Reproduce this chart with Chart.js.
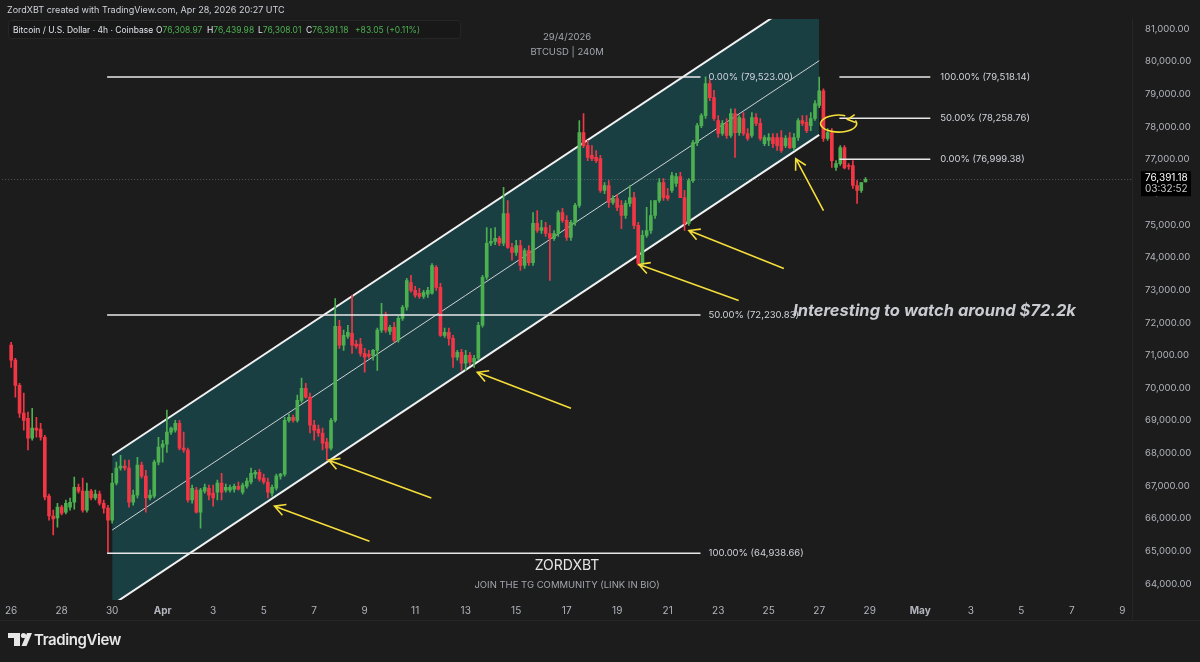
<!DOCTYPE html>
<html lang="en">
<head>
<meta charset="UTF-8">
<title>BTCUSD 240M</title>
<script src="https://cdn.jsdelivr.net/npm/chart.js"></script>
<style>
  body { margin: 0; padding: 0; background: #1c1c1c; }
  #wrap { width: 1200px; height: 662px; }
</style>
</head>
<body>
<div id="wrap"><canvas id="btcChart" width="1200" height="662"></canvas></div>
<script>
// BTCUSD 4h candles (Coinbase), first candle Mar 26 00:00 UTC, one every 4 hours
const opens = [
  71310,70850,70080,69230,69070,68460,68770,68740,68490,66690,66080,66020,
  66350,66200,66350,66500,66960,66840,66260,66840,66630,66750,66470,66320,
  65950,67090,67550,67610,67550,66500,66720,67640,67300,66630,66690,67730,
  68190,68280,68650,68710,68920,68160,68100,66570,66870,66200,66840,66930,
  66780,66810,67090,66870,66870,66900,66990,66810,66990,67120,67360,67420,
  67240,67120,66780,66930,67300,67360,69010,69100,69010,69620,69990,69720,
  68860,68740,68620,68340,68160,69010,71890,71310,71580,71670,71340,71340,
  71060,71030,71000,71150,71770,72220,71730,71860,71460,72130,72470,73230,
  72990,72900,72800,72870,72900,73690,73080,71610,71700,71520,70940,71090,
  70760,71000,70790,70910,71920,73390,74430,74490,74580,74430,75340,74300,
  74150,74360,73750,74210,73840,75040,74820,74910,74730,74580,74730,75370,
  75130,74610,75070,75590,77820,77420,77120,77060,77020,76050,76200,75680,
  75800,75590,75280,75650,75830,74980,73810,74670,74820,75280,75740,76290,
  75890,76050,76260,76470,75830,75040,76350,77510,78030,78340,79320,78890,
  78190,77790,78100,77730,78400,77820,78250,77790,77730,78280,78100,77480,
  77580,77670,77670,77670,77420,77670,77360,77670,78190,78130,78030,78250,
  78650,79100,77640,77820,76750,76870,77360,76810,76810,76200,76050,76308.97
];
const highs = [
  71400,70910,70140,69840,69260,69380,69100,68920,68550,66750,66260,66470,
  66410,66570,66630,67270,67060,67240,67090,66900,66870,66840,66570,66410,
  67390,67730,67940,67790,67790,66870,67880,67730,67480,66870,67790,68490,
  68400,69320,68800,69010,69010,68650,68160,67030,66960,66930,67060,67030,
  67030,67180,67390,67060,67030,67060,67120,67090,67240,67550,67480,67510,
  67360,67240,67030,67360,67390,69100,69200,69170,69780,70300,70140,69840,
  69010,68860,68770,68460,69070,72740,72070,71770,71920,72840,71460,71520,
  71210,71150,71180,71830,72590,72320,71920,72010,72190,72530,73360,73450,
  73110,73050,72990,73080,73810,73750,73200,71830,71830,71610,71150,71180,
  71150,71090,71000,72010,73450,74910,74880,74910,74640,76140,75740,74430,
  74520,74520,74270,74360,75370,75430,75130,75070,74980,74820,75430,75500,
  75280,75130,75650,78190,78400,77580,77420,77270,77120,76290,76350,75890,
  75920,75740,75740,76200,75990,75070,74820,75530,75740,75740,76410,76410,
  76110,76600,76570,76600,76050,76410,77580,78100,78400,79523.00,79440,79110,
  78340,78190,78250,78550,78550,78340,78430,77940,78430,78400,78250,77730,
  77790,77790,77790,77880,77730,77820,77790,78250,78340,78340,78430,78800,
  79518.14,79160,77940,77940,76960,77420,77420,76870,76960,76350,76290,76439.98
];
const lows = [
  70630,69720,69100,68710,68100,68400,68490,68400,66570,65950,65500,65740,
  66110,66140,66260,66290,66780,66200,66200,66570,66570,66410,66170,64938.66,
  65860,67030,67480,67480,66350,66410,66630,67240,66200,66570,66630,67640,
  67730,68030,68580,68650,68100,68030,66500,66470,66170,65710,66780,66570,
  66380,66570,66570,66810,66810,66810,66870,66750,66930,67060,67240,67150,
  67060,66630,66690,66870,67210,67300,68950,68950,68950,69560,69690,68620,
  68400,68520,68100,67790,68100,68950,71210,71150,71520,71060,71210,70970,
  70480,70910,70850,70540,71700,71700,71640,71400,71400,72070,72380,72930,
  72770,72740,72740,72770,72870,72990,71580,71550,71310,70630,70850,70540,
  70540,70690,70630,70850,71860,73320,74360,74390,74360,74360,74270,73910,
  74060,73600,73660,73750,73750,74760,74730,74640,73290,74520,74640,75070,
  74520,74520,74980,75530,77360,76960,76960,76900,75990,75950,75530,75620,
  75430,74880,75190,75560,74880,73750,73720,74610,74730,75190,75680,75740,
  75740,75990,76170,75830,74820,74980,76290,77420,77970,78250,78800,78190,
  77670,77730,77640,77670,77060,77730,77730,77580,77670,78030,77580,77420,
  77420,77360,77270,77210,77360,77330,77270,77580,78030,77820,77880,78190,
  78580,77550,77580,76750,76660,76810,76710,76690,76110,75650,75990,76308.01
];
const closes = [
  70850,70080,69230,69010,68460,68770,68710,68490,66660,66080,65990,66350,
  66170,66470,66500,66960,66840,66260,66840,66630,66750,66470,66320,65950,
  67090,67550,67610,67550,66500,66720,67640,67300,66630,66720,67730,68190,
  68280,68650,68770,68920,68160,68100,66570,66930,66200,66870,66960,66720,
  66630,67090,66810,66960,66960,66990,66900,67030,67150,67390,67420,67210,
  67120,66810,66960,67300,67360,69010,69100,69010,69620,69990,69720,68860,
  68710,68620,68310,68160,69010,71890,71310,71610,71700,71310,71280,71060,
  70940,70970,71150,71770,72220,71770,71860,71460,72130,72470,73290,72990,
  72840,72800,72930,72990,73750,73080,71610,71700,71520,70940,71090,70760,
  71000,70790,70910,71920,73390,74430,74490,74580,74430,75340,74300,74150,
  74360,73750,74210,73840,75040,74820,74910,74730,74580,74730,75370,75130,
  74610,75070,75590,77820,77420,77060,77020,76960,76050,76200,75680,75800,
  75530,75280,75650,75830,74980,73810,74670,74820,75280,75740,76290,75830,
  75800,76500,76470,75830,75040,76350,77510,78030,78340,79320,78890,78250,
  77790,78100,77730,78400,77820,78280,77790,77640,78280,78100,77640,77670,
  77670,77480,77420,77270,77640,77360,77670,78190,78100,77880,78250,78710,
  79100,77640,77820,76960,76870,77360,76740,76780,76200,76050,76290,76391.18
];

// x axis: days since Mar 26
const tickDays   = [0,2,4,6,8,10,12,14,16,18,20,22,24,26,28,30,32,34,36,38,40,42,44];
const tickLabels = ['26','28','30','Apr','3','5','7','9','11','13','15','17','19','21','23','25','27','29','May','3','5','7','9'];
const priceTicks = [64000,65000,66000,67000,68000,69000,70000,71000,72000,73000,74000,75000,76000,77000,78000,79000,80000,81000];

// drawn channel (Mar 30 -> Apr 27)
const channelDays  = [4, 32];
const channelUpper = [67940, 82290];
const channelMid   = [65650, 80020];
const channelLower = [63360, 77750];

// fib retracements
const fibLeftLevels  = [79523.00, 72230.83, 64938.66];
const fibLeftLabels  = ['0.00% (79,523.00)', '50.00% (72,230.83)', '100.00% (64,938.66)'];
const fibRightLevels = [79518.14, 78258.76, 76999.38];
const fibRightLabels = ['100.00% (79,518.14)', '50.00% (78,258.76)', '0.00% (76,999.38)'];

const lastPrice = 76391.18;

const UP = '#4caf50';
const DOWN = '#f23645';
const TEAL = '#1a3f43';
const YELLOW = '#f5dd3a';
const FONT = "Inter, 'Noto Sans', sans-serif";

const candleX = i => i * 4 / 24;
const candleColors = opens.map((o, i) => closes[i] >= o ? UP : DOWN);

function fmt(v) {
  return v.toLocaleString('en-US', {minimumFractionDigits: 2, maximumFractionDigits: 2});
}

function drawArrow(ctx, x1, y1, x2, y2) {
  const a = Math.atan2(y2 - y1, x2 - x1);
  ctx.beginPath();
  ctx.moveTo(x1, y1);
  ctx.lineTo(x2, y2);
  ctx.moveTo(x2 - 12 * Math.cos(a - 0.5), y2 - 12 * Math.sin(a - 0.5));
  ctx.lineTo(x2, y2);
  ctx.lineTo(x2 - 12 * Math.cos(a + 0.5), y2 - 12 * Math.sin(a + 0.5));
  ctx.stroke();
}

// arrows: [tailDay, tailPrice, headDay, headPrice]
const arrows = [
  [14.19, 65310, 10.43, 66380],
  [16.64, 66630, 12.57, 67790],
  [22.17, 69380, 18.46, 70480],
  [28.81, 72680, 24.86, 73780],
  [30.60, 73660, 26.84, 74820],
  [32.17, 75430, 31.07, 77020]
];

const overlay = {
  id: 'overlay',
  beforeDraw(chart) {
    const ctx = chart.ctx;
    ctx.save();
    ctx.fillStyle = '#1c1c1c';
    ctx.fillRect(0, 0, chart.width, chart.height);
    ctx.restore();
  },
  afterDatasetsDraw(chart) {
    const ctx = chart.ctx;
    const xs = chart.scales.x, ys = chart.scales.y;
    const area = chart.chartArea;
    ctx.save();
    ctx.beginPath();
    ctx.rect(area.left, area.top, area.right - area.left, area.bottom - area.top);
    ctx.clip();

    // last price dotted line
    const yl = ys.getPixelForValue(lastPrice);
    ctx.strokeStyle = 'rgba(160,160,160,0.45)';
    ctx.lineWidth = 1;
    ctx.setLineDash([1, 2]);
    ctx.beginPath();
    ctx.moveTo(area.left, Math.round(yl) + 0.5);
    ctx.lineTo(area.right, Math.round(yl) + 0.5);
    ctx.stroke();
    ctx.setLineDash([]);

    // fib lines
    ctx.font = '9.5px ' + FONT;
    ctx.textBaseline = 'middle';
    ctx.textAlign = 'left';
    ctx.lineWidth = 1.5;
    ctx.strokeStyle = '#e8e8e8';
    ctx.fillStyle = '#d1d4dc';
    const l0 = xs.getPixelForValue(3.8), l1 = xs.getPixelForValue(27.3);
    fibLeftLevels.forEach((v, i) => {
      const y = ys.getPixelForValue(v);
      ctx.beginPath(); ctx.moveTo(l0, y); ctx.lineTo(l1, y); ctx.stroke();
      ctx.fillText(fibLeftLabels[i], l1 + 8, y);
    });
    const r0 = xs.getPixelForValue(32.8), r1 = xs.getPixelForValue(36.4);
    fibRightLevels.forEach((v, i) => {
      const y = ys.getPixelForValue(v);
      ctx.beginPath(); ctx.moveTo(r0, y); ctx.lineTo(r1, y); ctx.stroke();
      ctx.fillText(fibRightLabels[i], r1 + 10, y);
    });

    // yellow arrows
    ctx.strokeStyle = YELLOW;
    ctx.lineWidth = 1.6;
    arrows.forEach(a => {
      drawArrow(ctx, xs.getPixelForValue(a[0]), ys.getPixelForValue(a[1]),
                xs.getPixelForValue(a[2]), ys.getPixelForValue(a[3]));
    });
    // loop around the 50% level, ending in a small arrowhead
    const ex = xs.getPixelForValue(32.77), ey = ys.getPixelForValue(78095);
    ctx.beginPath();
    ctx.ellipse(ex, ey, 18, 8.5, 0, -0.12 * Math.PI, 1.62 * Math.PI);
    ctx.stroke();
    ctx.beginPath();
    ctx.moveTo(ex + 16, ey - 9);
    ctx.lineTo(ex + 9, ey - 4);
    ctx.lineTo(ex + 17, ey - 1);
    ctx.stroke();

    // annotation text
    ctx.fillStyle = '#c9cbd1';
    ctx.font = 'italic bold 16.5px ' + FONT;
    ctx.fillText('Interesting to watch around $72.2k', 793, 311);

    ctx.textAlign = 'center';
    ctx.fillStyle = '#a3a6af';
    ctx.font = '9.5px ' + FONT;
    const cx = (area.left + area.right) / 2;
    ctx.fillText('29/4/2026', cx, 37);
    ctx.fillText('BTCUSD | 240M', cx, 52);
    ctx.fillStyle = '#e6e6e6';
    ctx.font = '14px ' + FONT;
    ctx.fillText('ZORDXBT', cx, 566);
    ctx.fillStyle = '#a3a6af';
    ctx.font = '9.5px ' + FONT;
    ctx.fillText('JOIN THE TG COMMUNITY (LINK IN BIO)', cx, 585);
    ctx.restore();
  },
  afterDraw(chart) {
    const ctx = chart.ctx;
    const ys = chart.scales.y;
    const area = chart.chartArea;
    ctx.save();
    // header strip
    ctx.fillStyle = '#1c1c1c';
    ctx.fillRect(0, 0, chart.width, area.top);
    ctx.textBaseline = 'middle';
    ctx.textAlign = 'left';
    ctx.fillStyle = '#d1d4dc';
    ctx.font = '9px ' + FONT;
    ctx.fillText('ZordXBT created with TradingView.com, Apr 28, 2026 20:27 UTC', 7, 10);

    ctx.fillStyle = 'rgba(24,24,24,0.9)';
    ctx.strokeStyle = '#262626';
    ctx.lineWidth = 1;
    ctx.beginPath();
    ctx.roundRect(8.5, 20.5, 452, 18, 3);
    ctx.fill();
    ctx.stroke();

    ctx.font = '8.5px ' + FONT;
    ctx.fillStyle = '#e0e3eb';
    ctx.fillText('Bitcoin / U.S. Dollar · 4h · Coinbase', 13, 30);
    const parts = [['O', 156, '76,308.97'], ['H', 207, '76,439.98'], ['L', 258, '76,308.01'], ['C', 306, '76,391.18']];
    parts.forEach(p => {
      ctx.fillStyle = '#e0e3eb';
      ctx.fillText(p[0], p[1], 30);
      const w = ctx.measureText(p[0]).width;
      ctx.fillStyle = '#4caf50';
      ctx.fillText(p[2], p[1] + w, 30);
    });
    ctx.fillStyle = '#4caf50';
    ctx.fillText('+83.05 (+0.11%)', 355, 30);

    // separators
    ctx.strokeStyle = '#262626';
    ctx.beginPath();
    ctx.moveTo(0, 620.5); ctx.lineTo(chart.width, 620.5);
    ctx.moveTo(area.right + 0.5, area.top); ctx.lineTo(area.right + 0.5, 620);
    ctx.stroke();

    // last price tag on the axis
    const yl = ys.getPixelForValue(lastPrice);
    ctx.fillStyle = '#000';
    ctx.fillRect(area.right + 9, yl - 8, 50, 25);
    ctx.fillStyle = '#ffffff';
    ctx.font = '10px ' + FONT;
    ctx.fillText(fmt(lastPrice), area.right + 13, yl - 1);
    ctx.fillStyle = '#c8c8c8';
    ctx.fillText('03:32:52', area.right + 13, yl + 10);

    // TradingView logo
    ctx.fillStyle = '#e6e6e6';
    ctx.fillRect(8, 633, 12, 5);
    ctx.fillRect(14, 633, 6, 13);
    ctx.beginPath();
    ctx.arc(23.5, 635.5, 2.6, 0, Math.PI * 2);
    ctx.fill();
    ctx.beginPath();
    ctx.moveTo(27, 633); ctx.lineTo(32, 633); ctx.lineTo(26.5, 646); ctx.lineTo(21.5, 646);
    ctx.closePath();
    ctx.fill();
    ctx.font = '600 15px ' + FONT;
    ctx.letterSpacing = '-0.4px';
    ctx.fillText('TradingView', 34, 640);
    ctx.restore();
  }
};

const ctx = document.getElementById('btcChart').getContext('2d');
new Chart(ctx, {
  type: 'bar',
  data: {
    datasets: [
      {
        type: 'line',
        data: channelDays.map((d, i) => ({x: d, y: channelUpper[i]})),
        borderColor: '#f2f2f2', borderWidth: 2, pointRadius: 0,
        fill: '+1', backgroundColor: TEAL, order: 10
      },
      {
        type: 'line',
        data: channelDays.map((d, i) => ({x: d, y: channelLower[i]})),
        borderColor: '#f2f2f2', borderWidth: 2, pointRadius: 0,
        fill: false, order: 9
      },
      {
        type: 'line',
        data: channelDays.map((d, i) => ({x: d, y: channelMid[i]})),
        borderColor: 'rgba(235,235,235,0.85)', borderWidth: 1, pointRadius: 0,
        fill: false, order: 9
      },
      {
        data: highs.map((h, i) => ({x: candleX(i), y: [lows[i], h]})),
        backgroundColor: candleColors,
        barThickness: 1, grouped: false, order: 2
      },
      {
        data: opens.map((o, i) => ({x: candleX(i), y: [o, closes[i]]})),
        backgroundColor: candleColors,
        barThickness: 3, grouped: false, minBarLength: 1, order: 1
      }
    ]
  },
  options: {
    responsive: false,
    animation: false,
    layout: { padding: { top: 18, bottom: 40, left: 0, right: 0 } },
    plugins: { legend: { display: false }, tooltip: { enabled: false } },
    scales: {
      x: {
        type: 'linear', min: -0.356, max: 44.387, offset: false,
        afterBuildTicks: s => { s.ticks = tickDays.map(v => ({value: v})); },
        afterFit: s => { s.height = 22; },
        ticks: {
          autoSkip: false, maxRotation: 0, padding: 5, color: '#b2b5be',
          callback: (v, i) => tickLabels[i],
          font: c => ({ family: FONT, size: 10, weight: /[A-Za-z]/.test(tickLabels[c.index] || '') ? 'bold' : 'normal' })
        },
        grid: { display: false, drawTicks: false },
        border: { display: false }
      },
      y: {
        position: 'right', min: 63508, max: 81306, beginAtZero: false,
        afterBuildTicks: s => { s.ticks = priceTicks.map(v => ({value: v})); },
        afterFit: s => { s.width = 68; },
        ticks: {
          padding: 13, color: '#b2b5be',
          font: { family: FONT, size: 9.5 },
          callback: v => fmt(v)
        },
        grid: { display: false, drawTicks: false },
        border: { display: false }
      }
    }
  },
  plugins: [overlay]
});
</script>
</body>
</html>
